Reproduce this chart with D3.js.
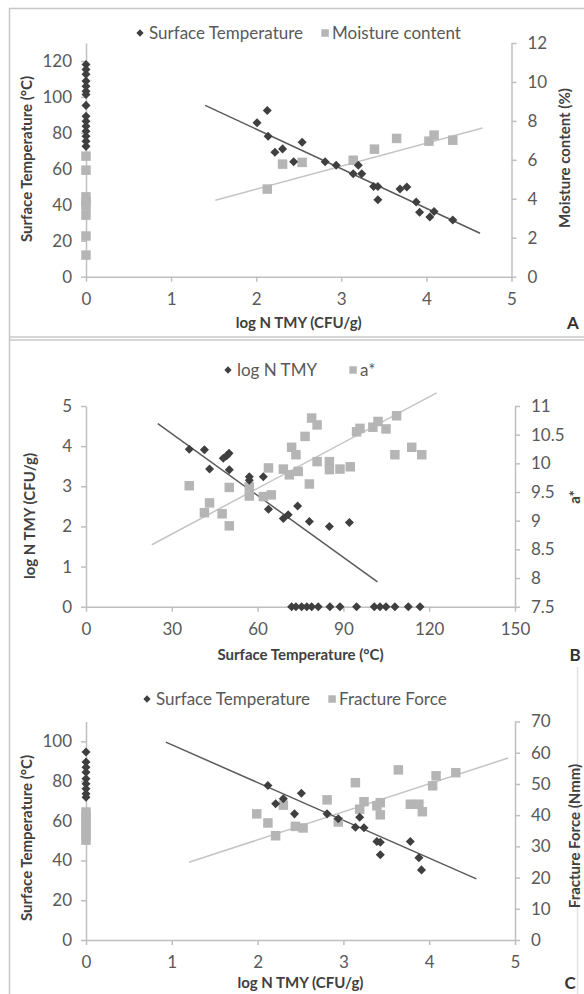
<!DOCTYPE html>
<html>
<head>
<meta charset="utf-8">
<script src="https://cdn.jsdelivr.net/npm/d3@7"></script>
<style>
body { margin: 0; background: #fff; }
svg { display: block; }
text { font-family: Lato, "Open Sans", sans-serif; }
</style>
</head>
<body>
<div id="chart-area"></div>
<script>
// ---- Panel A: log N TMY vs surface temperature / moisture content
var tempA = [
    [0,118.1],[0,115.3],[0,112.6],[0,108.8],[0,106.0],[0,103.2],[0,101.4],[0,95.3],
    [0,89.3],[0,86.5],[0,83.7],[0,80.9],[0,78.1],[0,75.3],[0,72.5],
    [2.01,85.6],[2.13,92.5],[2.14,78.1],[2.22,69.2],[2.31,71.1],[2.44,63.9],[2.54,74.8],
    [2.81,63.9],[2.94,62.0],[3.14,57.3],[3.20,62.0],[3.24,57.3],[3.38,50.2],[3.43,50.2],
    [3.43,42.8],[3.69,48.8],[3.77,49.9],[3.88,41.5],[3.92,35.9],[4.04,33.2],[4.09,36.3],[4.31,31.6]
];
var moistA = [
    [0,6.19],[0,5.47],[0,4.1],[0,3.85],[0,3.63],[0,3.16],[0,2.09],[0,1.11],
    [2.13,4.50],[2.31,5.78],[2.54,5.87],[3.14,5.98],[3.39,6.55],[3.65,7.10],[4.03,6.96],[4.09,7.27],[4.31,7.01]
];
var tempFitA = [[1.40,95.3],[4.63,24.2]];
var moistFitA = [[1.52,3.93],[4.66,7.64]];
var xTicksA = [0,1,2,3,4,5];
var yLTicksA = [0,20,40,60,80,100,120];
var yRTicksA = [0,2,4,6,8,10,12];

// ---- Panel B: surface temperature vs log N TMY / a*
var logB = [
    [36.1,3.92],[41.4,3.91],[43.2,3.43],[48.0,3.70],[49.2,3.76],[50.0,3.82],[50.1,3.41],
    [57.1,3.24],[57.1,3.15],[62.0,3.24],[63.8,2.43],[69.0,2.20],[70.7,2.29],[74.0,2.51],
    [78.1,2.12],[85.1,2.0],[92.1,2.10],
    [71.9,0],[73.4,0],[75.4,0],[77.2,0],[78.9,0],[81.2,0],[85.3,0],[88.8,0],[94.6,0],
    [100.8,0],[102.8,0],[104.9,0],[108.0,0],[112.7,0],[116.8,0]
];
var aStarB = [
    [36.1,9.61],[41.4,9.14],[43.2,9.31],[47.6,9.12],[50.1,8.91],[50.1,9.58],[57.1,9.43],
    [57.1,9.59],[62.0,9.42],[64.8,9.45],[63.8,9.92],[69.0,9.90],[71.1,9.80],[71.9,10.28],
    [73.4,10.15],[74.2,9.86],[78.1,9.64],[76.6,10.47],[78.9,10.79],[80.8,10.67],[80.8,10.03],
    [85.1,10.03],[85.1,9.89],[88.8,9.90],[92.4,9.94],[94.6,10.55],[95.8,10.61],[100.3,10.63],
    [102.1,10.73],[104.9,10.60],[108.0,10.15],[108.6,10.83],[113.9,10.28],[117.4,10.15]
];
var logFitB = [[25.1,4.56],[101.9,0.62]];
var aFitB = [[23.0,8.58],[122.6,11.23]];
var xTicksB = [0,30,60,90,120,150];
var yLTicksB = [0,1,2,3,4,5];
var yRTicksB = [7.5,8,8.5,9,9.5,10,10.5,11];

// ---- Panel C: log N TMY vs surface temperature / fracture force
var tempC = [
    [0,94.6],[0,89.6],[0,87.0],[0,84.5],[0,81.2],[0,78.7],[0,76.1],[0,73.6],[0,71.9],
    [2.12,77.8],[2.21,68.6],[2.30,71.1],[2.43,63.5],[2.51,73.9],[2.81,63.5],[2.94,61.0],
    [3.14,56.8],[3.19,61.8],[3.24,56.5],[3.39,49.6],[3.43,49.2],[3.43,42.9],[3.78,49.6],
    [3.88,41.4],[3.91,35.3]
];
var forceC = [
    [0,32],[0,33.5],[0,35],[0,36.5],[0,38],[0,39.5],[0,41],
    [1.99,40.4],[2.12,37.5],[2.21,33.4],[2.30,43.2],[2.44,36.4],[2.53,35.9],[2.81,44.9],
    [2.94,37.8],[3.14,50.4],[3.19,41.9],[3.24,44.3],[3.39,43.0],[3.43,44.0],[3.43,40.1],
    [3.64,54.5],[3.78,43.5],[3.88,43.5],[3.92,41.1],[4.04,49.4],[4.08,52.6],[4.31,53.6]
];
var tempFitC = [[0.93,99.6],[4.55,30.8]];
var forceFitC = [[1.20,24.9],[4.92,58.3]];
var xTicksC = [0,1,2,3,4,5];
var yLTicksC = [0,20,40,60,80,100];
var yRTicksC = [0,10,20,30,40,50,60,70];

var width = 584, height = 994;
var darkCol = "#3f3f3f", lightCol = "#b5b5b5", axisCol = "#bfbfbf", labelCol = "#595959";

var svg = d3.select("#chart-area")
    .append("svg")
        .attr("width", width)
        .attr("height", height);

// panel frames
var frame = svg.append("g")
    .attr("stroke", "#c8c8c8")
    .attr("stroke-width", 1.5)
    .attr("fill", "none");
frame.append("line").attr("x1", 9).attr("x2", 584).attr("y1", 8.5).attr("y2", 8.5);
frame.append("line").attr("x1", 9.5).attr("x2", 9.5).attr("y1", 8).attr("y2", 994);
frame.append("line").attr("x1", 9).attr("x2", 584).attr("y1", 337).attr("y2", 337);
frame.append("line").attr("x1", 9).attr("x2", 584).attr("y1", 340).attr("y2", 340);
frame.append("line").attr("x1", 577.5).attr("x2", 577.5).attr("y1", 667).attr("y2", 994)
    .attr("stroke", "#e2e2e2");

var diamond = d3.symbol().type(d3.symbolDiamond2 || d3.symbolDiamond).size(52);
var square = d3.symbol().type(d3.symbolSquare).size(90);

var panels = [
    { left: 86, right: 511.5, top: 43, bottom: 276.7,
      xDomain: [0,5], yLDomain: [0,130], yRDomain: [0,12],
      xTicks: xTicksA, yLTicks: yLTicksA, yRTicks: yRTicksA,
      dark: tempA, light: moistA, darkFit: tempFitA, lightFit: moistFitA,
      xTitle: "log N TMY (CFU/g)", yLTitle: "Surface Temperature (°C)", yRTitle: "Moisture content (%)",
      darkName: "Surface Temperature", lightName: "Moisture content",
      legendY: 33, legendX: 140, legendGap: 22,
      xTitleY: 323, yLTitleX: 27, yRTitleX: 565, yLMid: 159, yRMid: 158, letter: "A", letterX: 573 },
    { left: 86, right: 515, top: 406, bottom: 606.7,
      xDomain: [0,150], yLDomain: [0,5], yRDomain: [7.5,11],
      xTicks: xTicksB, yLTicks: yLTicksB, yRTicks: yRTicksB,
      dark: logB, light: aStarB, darkFit: logFitB, lightFit: aFitB,
      xTitle: "Surface Temperature (°C)", yLTitle: "log N TMY (CFU/g)", yRTitle: "a*",
      darkName: "log N TMY", lightName: "a*",
      legendY: 370, legendX: 228, legendGap: 36,
      xTitleY: 655, yLTitleX: 30, yRTitleX: 575, yLMid: 516, yRMid: 497, letter: "B", letterX: 575 },
    { left: 86, right: 515, top: 721.5, bottom: 940,
      xDomain: [0,5], yLDomain: [0,110], yRDomain: [0,70],
      xTicks: xTicksC, yLTicks: yLTicksC, yRTicks: yRTicksC,
      dark: tempC, light: forceC, darkFit: tempFitC, lightFit: forceFitC,
      xTitle: "log N TMY (CFU/g)", yLTitle: "Surface Temperature (°C)", yRTitle: "Fracture Force (Nmm)",
      darkName: "Surface Temperature", lightName: "Fracture Force",
      legendY: 699, legendX: 147, legendGap: 22,
      xTitleY: 983, yLTitleX: 27, yRTitleX: 575, yLMid: 838, yRMid: 836, letter: "C", letterX: 570 }
];

panels.forEach(drawPanel);

function drawPanel(p) {
    var g = svg.append("g");

    var x = d3.scaleLinear().domain(p.xDomain).range([p.left, p.right]);
    var yL = d3.scaleLinear().domain(p.yLDomain).range([p.bottom, p.top]);
    var yR = d3.scaleLinear().domain(p.yRDomain).range([p.bottom, p.top]);
    var fmt = function(d){ return String(d); };

    // axes
    var xAxis = g.append("g")
        .attr("transform", "translate(0," + p.bottom + ")")
        .call(d3.axisBottom(x).tickValues(p.xTicks).tickFormat(fmt)
            .tickSize(5).tickSizeOuter(0).tickPadding(11));
    var yLAxis = g.append("g")
        .attr("transform", "translate(" + p.left + ",0)")
        .call(d3.axisLeft(yL).tickValues(p.yLTicks).tickFormat(fmt)
            .tickSize(5).tickSizeOuter(0).tickPadding(9));
    var yRAxis = g.append("g")
        .attr("transform", "translate(" + p.right + ",0)")
        .call(d3.axisRight(yR).tickValues(p.yRTicks).tickFormat(fmt)
            .tickSize(5).tickSizeOuter(0).tickPadding(11));

    [xAxis, yLAxis, yRAxis].forEach(function(a) {
        a.select(".domain").attr("stroke", axisCol).attr("stroke-width", 1.5);
        a.selectAll(".tick line").attr("stroke", axisCol).attr("stroke-width", 1.5);
        a.selectAll(".tick text")
            .attr("fill", labelCol)
            .attr("font-size", "17px")
            .attr("font-family", "Lato, sans-serif");
    });

    // trend lines
    var lineL = d3.line().x(function(d){ return x(d[0]); }).y(function(d){ return yL(d[1]); });
    var lineR = d3.line().x(function(d){ return x(d[0]); }).y(function(d){ return yR(d[1]); });
    g.append("path").datum(p.lightFit)
        .attr("d", lineR)
        .attr("fill", "none")
        .attr("stroke", "#c4c4c4")
        .attr("stroke-width", 1.5);
    g.append("path").datum(p.darkFit)
        .attr("d", lineL)
        .attr("fill", "none")
        .attr("stroke", "#5a5a5a")
        .attr("stroke-width", 1.5);

    // square markers (right axis)
    g.selectAll(".sq").data(p.light).enter()
        .append("path")
            .attr("class", "sq")
            .attr("d", square)
            .attr("transform", function(d){ return "translate(" + x(d[0]) + "," + yR(d[1]) + ")"; })
            .attr("fill", lightCol);

    // diamond markers (left axis)
    g.selectAll(".dm").data(p.dark).enter()
        .append("path")
            .attr("class", "dm")
            .attr("d", diamond)
            .attr("transform", function(d){ return "translate(" + x(d[0]) + "," + yL(d[1]) + ")"; })
            .attr("fill", darkCol);

    // legend
    var lg = g.append("g").attr("font-size", "17px").attr("fill", labelCol);
    lg.append("path")
        .attr("d", d3.symbol().type(d3.symbolDiamond2 || d3.symbolDiamond).size(34))
        .attr("transform", "translate(" + p.legendX + "," + p.legendY + ")")
        .attr("fill", darkCol);
    var t1 = lg.append("text")
        .attr("x", p.legendX + 9)
        .attr("y", p.legendY)
        .attr("dy", "0.35em")
        .text(p.darkName);
    var sqX = p.legendX + 9 + t1.node().getComputedTextLength() + p.legendGap;
    lg.append("path")
        .attr("d", d3.symbol().type(d3.symbolSquare).size(56))
        .attr("transform", "translate(" + sqX + "," + p.legendY + ")")
        .attr("fill", lightCol);
    lg.append("text")
        .attr("x", sqX + 7)
        .attr("y", p.legendY)
        .attr("dy", "0.35em")
        .text(p.lightName);

    // axis titles
    g.append("text")
        .attr("x", (p.left + p.right) / 2)
        .attr("y", p.xTitleY)
        .attr("dy", "0.35em")
        .attr("text-anchor", "middle")
        .attr("font-size", "15px")
        .attr("font-weight", "bold")
        .attr("fill", "#404040")
        .text(p.xTitle);
    g.append("text")
        .attr("transform", "translate(" + p.yLTitleX + "," + p.yLMid + ") rotate(-90)")
        .attr("dy", "0.35em")
        .attr("text-anchor", "middle")
        .attr("font-size", "15px")
        .attr("font-weight", "bold")
        .attr("fill", "#404040")
        .text(p.yLTitle);
    g.append("text")
        .attr("transform", "translate(" + p.yRTitleX + "," + p.yRMid + ") rotate(-90)")
        .attr("dy", "0.35em")
        .attr("text-anchor", "middle")
        .attr("font-size", "15px")
        .attr("font-weight", "bold")
        .attr("fill", "#404040")
        .text(p.yRTitle);

    // panel letter
    g.append("text")
        .attr("x", p.letterX)
        .attr("y", p.xTitleY)
        .attr("dy", "0.35em")
        .attr("text-anchor", "middle")
        .attr("font-family", "'Liberation Serif', 'DejaVu Serif', serif")
        .attr("font-size", "17px")
        .attr("font-weight", "bold")
        .attr("fill", "#333")
        .text(p.letter);
}
</script>
</body>
</html>
